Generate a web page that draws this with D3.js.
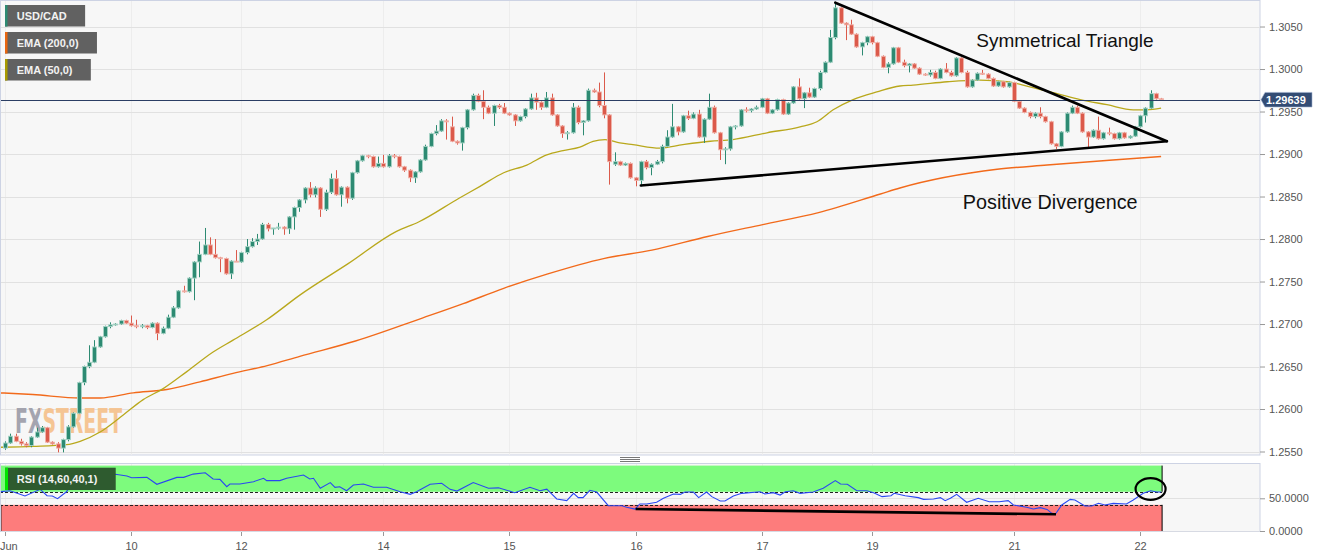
<!DOCTYPE html>
<html><head><meta charset="utf-8">
<script src="https://cdn.jsdelivr.net/npm/d3@7"></script>
<style>
html,body{margin:0;padding:0;background:#fff;overflow:hidden;}
svg{display:block;font-family:"Liberation Sans",Arial,sans-serif;}
</style></head><body>
<svg id="c" width="1331" height="558"></svg>
<script>
// ---------- DATA (hourly USD/CAD candles, index 0..220) ----------
const open = [
1.2554,1.2560,1.2568,1.2562,1.2559,1.2557,1.2567,1.2573,1.2578,1.2561,
1.2559,1.2554,1.2564,1.2579,1.2595,1.2631,1.2650,1.2655,1.2673,1.2685,
1.2697,1.2699,1.2700,1.2704,1.2701,1.2698,1.2697,1.2698,1.2696,1.2701,
1.2689,1.2695,1.2708,1.2719,1.2739,1.2738,1.2754,1.2773,1.2782,1.2793,
1.2782,1.2778,1.2777,1.2759,1.2774,1.2773,1.2784,1.2791,1.2797,1.2800,
1.2817,1.2812,1.2813,1.2814,1.2812,1.2826,1.2837,1.2846,1.2860,1.2852,
1.2860,1.2835,1.2855,1.2871,1.2852,1.2861,1.2848,1.2878,1.2892,1.2898,
1.2897,1.2885,1.2889,1.2885,1.2898,1.2897,1.2885,1.2881,1.2872,1.2879,
1.2893,1.2909,1.2924,1.2927,1.2939,1.2932,1.2915,1.2913,1.2931,1.2952,
1.2969,1.2962,1.2955,1.2948,1.2957,1.2955,1.2948,1.2946,1.2939,1.2944,
1.2953,1.2966,1.2961,1.2955,1.2966,1.2946,1.2933,1.2924,1.2925,1.2955,
1.2937,1.2939,1.2975,1.2973,1.2957,1.2946,1.2888,1.2891,1.2887,1.2889,
1.2872,1.2869,1.2891,1.2884,1.2888,1.2891,1.2909,1.2920,1.2932,1.2926,
1.2945,1.2942,1.2947,1.2920,1.2941,1.2955,1.2925,1.2905,1.2906,1.2932,
1.2933,1.2952,1.2951,1.2953,1.2955,1.2965,1.2948,1.2952,1.2964,1.2947,
1.2960,1.2979,1.2965,1.2972,1.2967,1.2977,1.2996,1.3008,1.3037,1.3072,
1.3054,1.3052,1.3041,1.3026,1.3031,1.3038,1.3031,1.3015,1.3002,1.3006,
1.3025,1.3008,1.3004,1.3006,1.3001,1.2994,1.2993,1.2996,1.2989,1.3000,
1.2996,1.2992,1.3013,1.2996,1.2979,1.2987,1.2995,1.2994,1.2989,1.2980,
1.2985,1.2979,1.2984,1.2962,1.2954,1.2949,1.2944,1.2948,1.2944,1.2938,
1.2912,1.2909,1.2926,1.2948,1.2955,1.2948,1.2926,1.2920,1.2928,1.2918,
1.2925,1.2924,1.2918,1.2925,1.2919,1.2921,1.2932,1.2945,1.2954,1.2971,
1.2965];
const high = [
1.2562,1.2571,1.2571,1.2565,1.2561,1.2568,1.2578,1.2580,1.2579,1.2562,
1.2561,1.2565,1.2581,1.2596,1.2632,1.2651,1.2675,1.2681,1.2686,1.2698,
1.2702,1.2701,1.2705,1.2705,1.2710,1.2705,1.2700,1.2699,1.2702,1.2702,
1.2697,1.2711,1.2721,1.2740,1.2745,1.2755,1.2774,1.2797,1.2813,1.2802,
1.2800,1.2779,1.2778,1.2775,1.2787,1.2785,1.2800,1.2801,1.2806,1.2819,
1.2819,1.2813,1.2819,1.2815,1.2827,1.2838,1.2847,1.2861,1.2867,1.2862,
1.2861,1.2858,1.2877,1.2881,1.2862,1.2862,1.2879,1.2893,1.2899,1.2899,
1.2898,1.2897,1.2899,1.2900,1.2900,1.2898,1.2886,1.2882,1.2880,1.2894,
1.2911,1.2925,1.2934,1.2941,1.2941,1.2944,1.2916,1.2932,1.2953,1.2971,
1.2971,1.2975,1.2957,1.2958,1.2959,1.2960,1.2949,1.2947,1.2945,1.2954,
1.2971,1.2972,1.2962,1.2973,1.2971,1.2947,1.2934,1.2927,1.2960,1.2957,
1.2940,1.2977,1.2977,1.2984,1.2996,1.2947,1.2902,1.2892,1.2890,1.2890,
1.2873,1.2892,1.2893,1.2889,1.2893,1.2911,1.2928,1.2959,1.2933,1.2946,
1.2951,1.2949,1.2952,1.2942,1.2971,1.2957,1.2926,1.2908,1.2933,1.2934,
1.2953,1.2955,1.2954,1.2957,1.2966,1.2966,1.2953,1.2965,1.2965,1.2961,
1.2980,1.2989,1.2973,1.2978,1.2978,1.2998,1.3009,1.3046,1.3079,1.3073,
1.3055,1.3058,1.3042,1.3032,1.3039,1.3039,1.3032,1.3016,1.3008,1.3026,
1.3026,1.3011,1.3007,1.3007,1.3002,1.2995,1.2999,1.2998,1.3001,1.3007,
1.2998,1.3014,1.3014,1.2998,1.2988,1.2996,1.2999,1.2995,1.2990,1.2986,
1.2986,1.2985,1.2985,1.2963,1.2955,1.2950,1.2949,1.2955,1.2945,1.2939,
1.2913,1.2927,1.2949,1.2957,1.2957,1.2949,1.2927,1.2929,1.2944,1.2926,
1.2931,1.2925,1.2926,1.2926,1.2922,1.2933,1.2946,1.2955,1.2975,1.2972,
1.2966];
const low = [
1.2552,1.2559,1.2561,1.2557,1.2555,1.2555,1.2566,1.2572,1.2560,1.2558,
1.2549,1.2549,1.2562,1.2578,1.2594,1.2628,1.2648,1.2654,1.2672,1.2684,
1.2695,1.2698,1.2699,1.2700,1.2697,1.2695,1.2695,1.2694,1.2695,1.2681,
1.2688,1.2694,1.2707,1.2718,1.2737,1.2737,1.2728,1.2755,1.2781,1.2781,
1.2777,1.2761,1.2758,1.2753,1.2773,1.2772,1.2782,1.2790,1.2793,1.2799,
1.2809,1.2805,1.2811,1.2805,1.2806,1.2811,1.2832,1.2842,1.2849,1.2849,
1.2826,1.2833,1.2853,1.2851,1.2838,1.2842,1.2846,1.2877,1.2891,1.2895,
1.2884,1.2884,1.2884,1.2884,1.2895,1.2884,1.2879,1.2867,1.2866,1.2878,
1.2892,1.2908,1.2922,1.2926,1.2917,1.2914,1.2911,1.2904,1.2929,1.2951,
1.2961,1.2941,1.2947,1.2933,1.2953,1.2947,1.2945,1.2933,1.2938,1.2942,
1.2952,1.2952,1.2952,1.2954,1.2945,1.2932,1.2919,1.2917,1.2924,1.2935,
1.2922,1.2938,1.2972,1.2955,1.2942,1.2864,1.2886,1.2886,1.2886,1.2871,
1.2862,1.2862,1.2882,1.2875,1.2887,1.2889,1.2908,1.2919,1.2922,1.2925,
1.2940,1.2941,1.2919,1.2913,1.2940,1.2924,1.2893,1.2888,1.2904,1.2929,
1.2932,1.2949,1.2949,1.2952,1.2954,1.2947,1.2947,1.2951,1.2946,1.2946,
1.2959,1.2964,1.2954,1.2966,1.2966,1.2975,1.2995,1.3007,1.3035,1.3053,
1.3034,1.3040,1.3025,1.3016,1.3028,1.3029,1.3014,1.3001,1.2995,1.3005,
1.3007,1.3002,1.2996,1.3000,1.2993,1.2992,1.2991,1.2988,1.2988,1.2995,
1.2991,1.2991,1.2995,1.2978,1.2978,1.2986,1.2993,1.2988,1.2979,1.2979,
1.2978,1.2978,1.2961,1.2953,1.2948,1.2942,1.2942,1.2942,1.2937,1.2911,
1.2906,1.2908,1.2925,1.2947,1.2947,1.2925,1.2908,1.2919,1.2917,1.2917,
1.2922,1.2917,1.2917,1.2918,1.2918,1.2920,1.2931,1.2937,1.2953,1.2964,
1.2963];
const close = [
1.2560,1.2568,1.2562,1.2559,1.2557,1.2567,1.2573,1.2578,1.2561,1.2559,
1.2554,1.2564,1.2579,1.2595,1.2631,1.2650,1.2655,1.2673,1.2685,1.2697,
1.2699,1.2700,1.2704,1.2701,1.2698,1.2697,1.2698,1.2696,1.2701,1.2689,
1.2695,1.2708,1.2719,1.2739,1.2738,1.2754,1.2773,1.2782,1.2793,1.2782,
1.2778,1.2777,1.2759,1.2774,1.2773,1.2784,1.2791,1.2797,1.2800,1.2817,
1.2812,1.2813,1.2814,1.2812,1.2826,1.2837,1.2846,1.2860,1.2852,1.2860,
1.2835,1.2855,1.2871,1.2852,1.2861,1.2848,1.2878,1.2892,1.2898,1.2897,
1.2885,1.2889,1.2885,1.2898,1.2897,1.2885,1.2881,1.2872,1.2879,1.2893,
1.2909,1.2924,1.2927,1.2939,1.2938,1.2915,1.2913,1.2931,1.2952,1.2969,
1.2962,1.2955,1.2948,1.2957,1.2955,1.2948,1.2946,1.2939,1.2944,1.2953,
1.2966,1.2961,1.2955,1.2966,1.2946,1.2933,1.2924,1.2925,1.2955,1.2937,
1.2939,1.2975,1.2973,1.2957,1.2946,1.2891,1.2891,1.2887,1.2889,1.2872,
1.2869,1.2891,1.2884,1.2888,1.2891,1.2909,1.2920,1.2932,1.2926,1.2945,
1.2942,1.2947,1.2920,1.2941,1.2955,1.2925,1.2905,1.2906,1.2932,1.2933,
1.2952,1.2951,1.2953,1.2955,1.2965,1.2948,1.2952,1.2964,1.2947,1.2960,
1.2979,1.2965,1.2972,1.2967,1.2977,1.2996,1.3008,1.3037,1.3072,1.3054,
1.3052,1.3041,1.3026,1.3031,1.3038,1.3031,1.3015,1.3002,1.3006,1.3025,
1.3008,1.3004,1.3006,1.3001,1.2994,1.2993,1.2996,1.2989,1.3000,1.2996,
1.2992,1.3013,1.2996,1.2979,1.2987,1.2995,1.2994,1.2989,1.2980,1.2985,
1.2979,1.2984,1.2962,1.2954,1.2949,1.2944,1.2948,1.2944,1.2938,1.2912,
1.2909,1.2926,1.2948,1.2955,1.2948,1.2926,1.2920,1.2928,1.2918,1.2925,
1.2924,1.2918,1.2925,1.2919,1.2921,1.2932,1.2945,1.2954,1.2971,1.2965,
1.29639];

const ema200Idx = [-1,5.3,14.3,18.1,24.4,30.8,37.1,43.4,49.9,56.1,66.7,79.4,87.2,94.9,103.3,113.9,123.1,133.7,144.2,154.8,166.6,170.3,188.8,198.3,210.8,220];
const ema200Val = [1.2619,1.2617,1.2613,1.2613,1.2619,1.2623,1.2632,1.2642,1.2651,1.2662,1.2680,1.2707,1.2724,1.2742,1.2759,1.2777,1.2787,1.2803,1.2817,1.2831,1.2853,1.2860,1.2882,1.2887,1.2893,1.2897];

const ema50Idx = [-1,5.4,11.7,14.3,18.1,22.5,26.3,30.1,34.6,39.6,43.4,49.8,56.1,65.3,74.5,78.7,86.4,90.4,94.9,99.3,103.1,106.2,109.4,111.9,114.2,117,119.5,124.6,129,134.2,138.5,145,151.3,154.5,157.6,161.4,165.9,170.3,172.8,179.3,185.5,190.7,195,200.2,204.6,209.7,214.7,217.3,220];
const ema50Val = [1.2555,1.2556,1.2558,1.2562,1.2573,1.2593,1.2611,1.2624,1.2644,1.2667,1.2681,1.2705,1.2734,1.2771,1.2809,1.2820,1.2848,1.2862,1.2878,1.2887,1.2899,1.2904,1.2908,1.2915,1.2917,1.2913,1.2911,1.2907,1.2911,1.2915,1.2917,1.2925,1.2932,1.2938,1.2952,1.2964,1.2973,1.2980,1.2981,1.2985,1.2987,1.2985,1.2979,1.2971,1.2964,1.2958,1.2952,1.2952,1.2954];

const rsiIdx = [-1,0.95,3.8,6.7,8,9,10,11.7,12.7,14.3,18.1,21,23.2,24.1,27,28.9,32.7,34,35.8,38.1,39.6,40.9,42.2,42.8,44.7,47.3,49.2,49.8,52.3,53.6,56.8,58,58.7,60,61.9,62.8,63.7,65,66.3,68.2,70.1,72.6,75.2,77.1,78.3,80.9,83.1,84.7,86,89.1,92,93.9,97,99.9,101.8,103.1,105,106.9,108.2,109.1,110,111.3,112.6,114.8,117.4,118.3,119.9,120.8,122.1,124,125.3,127.2,128.5,129.4,131,132,133.5,134.5,136.1,137,138.6,140.2,143.7,144.6,146.2,147.5,148.5,150,151.3,153.8,155.7,158,159,160.3,162.1,164,165.3,166.9,168.6,169.2,171.3,173.8,174.8,176.7,178,178.9,179.9,181.1,183,185.2,187.3,189.2,190.9,191.9,194.4,195.7,197,198.3,199.2,199.9,201.1,202.7,203.6,205.5,206.8,208.1,209.3,210.9,213.4,214.7,216.6,218,219.2,220];
const rsiVal = [60,61.6,53.5,63.7,54,53.5,49.4,60,73,83,85.6,86.7,84,81.5,82,71.4,82,82,87,89,79.5,79,67.7,71.8,71.8,75.4,80.6,77,77,80.6,85.6,79.5,80.6,65.3,74,66.8,67.7,61.6,70.3,71.8,66.8,66.8,60,56,60,71.4,73,63.7,61,74,65.3,66,58.6,66.8,61.6,64,49,46.4,57.6,51,51,62.2,59.6,38.7,38.7,36.2,33.6,41.3,41.3,43.9,50,56.6,56,59.6,59.6,51,59.6,52.5,45.9,45.9,53.5,57.6,60,56.6,58.6,55,60,61.6,57.6,59.6,65.3,77,71.8,71.4,61.6,61.6,58.6,52.5,54,57.6,54,51,48.4,49,51,46.4,50,56,43.9,50,44.8,44.8,46.4,39.8,36.2,33.6,35.7,33,27,26,39.8,48.4,47.4,38.2,38.2,42.3,39.8,42.3,41.3,47.4,57.6,61.6,59.6,59.6];

const priceTicks = [1.2550,1.2600,1.2650,1.2700,1.2750,1.2800,1.2850,1.2900,1.2950,1.3000,1.3050];
const rsiTicks = [0,50];
const rsiUpper = 60, rsiLower = 40;
const dayIdx = [0,24,45,72,96,120,144,165,192,216];
const dayLabels = ["Jun","10","12","14","15","16","17","19","21","22"];
const lastPrice = 1.29639;

// annotations (data units: candle index, price / rsi)
const triUpper = [[158,1.3078],[221.1,1.2915]];
const triLower = [[121,1.2863],[221.1,1.2915]];
const rsiDiv = [[120,33.6],[200,25.5]];
const rsiMark = [218,64.2];
const notes = [
  {t:"Symmetrical Triangle", i:201.7, p:1.30259, s:19},
  {t:"Positive Divergence",  i:198.9, p:1.28353, s:19.8}
];
const legends = [
  {t:"USD/CAD", c:"#2d8a72"},
  {t:"EMA (200,0)", c:"#e8650f"},
  {t:"EMA (50,0)", c:"#a89a00"}
];

// ---------- SCALES ----------
const svg = d3.select("#c");
const PR = 1260; // plot right
const x = d3.scaleLinear().domain([0,220]).range([5,1161.1]);
const y = d3.scaleLinear().domain([1.25459,1.30812]).range([455,0]);
const yr = d3.scaleLinear().domain([0,100]).range([531,465.6]);

const UP="#2d8a72", DN="#db5a4b", UPL="#a7d3c6", DNL="#f1b3aa";

const defs = svg.append("defs");
defs.append("clipPath").attr("id","cm").append("rect").attr("x",1).attr("y",1).attr("width",PR-1).attr("height",454);
defs.append("clipPath").attr("id","cr").append("rect").attr("x",1).attr("y",464).attr("width",PR-1).attr("height",67.5);
// two-colour watermark fill
const wg = defs.append("linearGradient").attr("id","wmg").attr("gradientUnits","userSpaceOnUse")
  .attr("x1",15).attr("x2",122).attr("y1",0).attr("y2",0);
wg.append("stop").attr("offset",0).attr("stop-color","#9c9ca8");
wg.append("stop").attr("offset",0.237).attr("stop-color","#9c9ca8");
wg.append("stop").attr("offset",0.237).attr("stop-color","#f5c08a");
wg.append("stop").attr("offset",1).attr("stop-color","#f5c08a");

// panels
svg.append("rect").attr("x",0.5).attr("y",0.5).attr("width",PR-0.5).attr("height",454.5)
  .attr("fill","#f7f7f7").attr("stroke","#cdd3e4");
svg.append("rect").attr("x",0.5).attr("y",463.5).attr("width",PR-0.5).attr("height",68)
  .attr("fill","#f7f7f7").attr("stroke","#cdd3e4");

// grids
const gm = svg.append("g").attr("clip-path","url(#cm)");
gm.selectAll("line.vg").data(dayIdx).join("line")
  .attr("x1",d=>Math.round(x(d))+0.5).attr("x2",d=>Math.round(x(d))+0.5)
  .attr("y1",1).attr("y2",455).attr("stroke","#ededed");
gm.selectAll("line.hg").data(priceTicks).join("line")
  .attr("x1",1).attr("x2",PR).attr("y1",d=>Math.round(y(d))+0.5).attr("y2",d=>Math.round(y(d))+0.5)
  .attr("stroke","#e1e1e1");

// FXSTREET watermark (single text element)
gm.append("text").attr("x",15).attr("y",433).attr("textLength",107).attr("lengthAdjust","spacingAndGlyphs")
  .style("font-family","'Liberation Sans Narrow','DejaVu Sans Condensed',sans-serif").style("font-weight","bold")
  .style("font-size","34px").attr("fill","url(#wmg)").attr("opacity",0.9).text("FXSTREET");

// EMA lines
const lineP = d3.line().x(d=>x(d[0])).y(d=>y(d[1])).curve(d3.curveMonotoneX);
gm.append("path").attr("d",lineP(ema200Idx.map((d,i)=>[d,ema200Val[i]])))
  .attr("fill","none").attr("stroke","#f26a1b").attr("stroke-width",1.4);
gm.append("path").attr("d",lineP(ema50Idx.map((d,i)=>[d,ema50Val[i]])))
  .attr("fill","none").attr("stroke","#b9a81c").attr("stroke-width",1.3);

// candles
const idx = d3.range(close.length);
const cx = i => Math.round(x(i))+0.5;
gm.selectAll("line.w").data(idx).join("line")
  .attr("x1",cx).attr("x2",cx)
  .attr("y1",i=>y(high[i])).attr("y2",i=>y(low[i]))
  .attr("stroke",i=>close[i]>=open[i]?UP:DN).attr("stroke-width",1);
gm.selectAll("rect.b").data(idx).join("rect")
  .attr("x",i=>cx(i)-2).attr("width",4)
  .attr("y",i=>y(Math.max(open[i],close[i])))
  .attr("height",i=>Math.max(1,Math.abs(y(open[i])-y(close[i]))))
  .attr("fill",i=>close[i]>=open[i]?UP:DN)
  .attr("stroke",i=>close[i]>=open[i]?UPL:DNL).attr("stroke-width",0.9);

// last price line
gm.append("line").attr("x1",1).attr("x2",PR).attr("y1",Math.round(y(lastPrice))+0.5).attr("y2",Math.round(y(lastPrice))+0.5)
  .attr("stroke","#2b3e64").attr("stroke-width",1);

// trendlines
const lineT = d3.line().x(d=>x(d[0])).y(d=>y(d[1]));
[triUpper, triLower].forEach(t=>gm.append("path").attr("d",lineT(t)).attr("fill","none")
  .attr("stroke","#000").attr("stroke-width",2.6).attr("stroke-linecap","round"));

// annotations
gm.selectAll("text.note").data(notes).join("text")
  .attr("x",d=>x(d.i)).attr("y",d=>y(d.p)).attr("text-anchor","middle")
  .style("font-size",d=>d.s+"px").attr("fill","#111").text(d=>d.t);

// legends
legends.forEach((L,k)=>{
  const g = svg.append("g").attr("transform",`translate(5,${5+k*27})`);
  const r = g.append("rect").attr("height",21.5).attr("fill","#616161");
  g.append("rect").attr("width",2.5).attr("height",21.5).attr("fill",L.c);
  const t = g.append("text").attr("x",11.7).attr("y",15).attr("fill","#f2f2f2")
    .style("font-size","11px").style("font-weight","bold").text(L.t);
  r.attr("width",t.node().getComputedTextLength()+30);
});

// price axis
const ya = d3.axisRight(y).tickValues(priceTicks).tickFormat(d3.format(".4f")).tickSize(5).tickPadding(4);
const ga = svg.append("g").attr("transform",`translate(${PR},0)`).call(ya);
ga.select(".domain").remove();
ga.selectAll("line").attr("stroke","#999");
ga.selectAll("text").attr("fill","#555").style("font-size","11px").style("font-family","'Liberation Sans',Arial,sans-serif");

// last price label
const ly = y(lastPrice);
svg.append("path").attr("d",`M${PR+1},${ly} L${PR+5},${ly-7.3} L${PR+52},${ly-7.3} L${PR+52},${ly+7.3} L${PR+5},${ly+7.3} Z`)
  .attr("fill","#334c74").attr("stroke","#9fb0cc").attr("stroke-width",0.6);
svg.append("text").attr("x",PR+6).attr("y",ly+4).attr("fill","#fff").style("font-size","11px").style("font-weight","bold")
  .text(lastPrice.toFixed(5));

// ---------- RSI PANEL ----------
const gr = svg.append("g").attr("clip-path","url(#cr)");
gr.selectAll("line.vg").data(dayIdx).join("line")
  .attr("x1",d=>Math.round(x(d))+0.5).attr("x2",d=>Math.round(x(d))+0.5)
  .attr("y1",464).attr("y2",532).attr("stroke","#ededed");
gr.selectAll("line.hg").data(rsiTicks).join("line")
  .attr("x1",1).attr("x2",PR).attr("y1",d=>Math.round(yr(d))+0.5).attr("y2",d=>Math.round(yr(d))+0.5).attr("stroke","#e1e1e1");
const bandR = x(220)+1;
gr.append("rect").attr("x",0).attr("y",yr(100)).attr("width",bandR).attr("height",yr(rsiUpper)-yr(100)).attr("fill","#7dfb7d");
gr.append("rect").attr("x",0).attr("y",yr(rsiLower)).attr("width",bandR).attr("height",yr(0)-yr(rsiLower)).attr("fill","#fd7c7c");
[rsiUpper,rsiLower].forEach(v=>gr.append("line").attr("x1",0).attr("x2",bandR)
  .attr("y1",Math.round(yr(v))+0.5).attr("y2",Math.round(yr(v))+0.5).attr("stroke","#222").attr("stroke-dasharray","3,2"));
gr.append("line").attr("x1",bandR).attr("x2",bandR).attr("y1",yr(100)).attr("y2",yr(rsiUpper)).attr("stroke","#000");
gr.append("line").attr("x1",bandR).attr("x2",bandR).attr("y1",yr(rsiLower)).attr("y2",yr(0)).attr("stroke","#000");
gr.append("line").attr("x1",1).attr("x2",1).attr("y1",yr(rsiLower)).attr("y2",yr(0)).attr("stroke","#333");

const lineR = d3.line().x(d=>x(d[0])).y(d=>yr(d[1]));
gr.append("path").attr("d",lineR(rsiIdx.map((d,i)=>[d,rsiVal[i]]))).attr("fill","none")
  .attr("stroke","#2947f2").attr("stroke-width",1.1);
gr.append("path").attr("d",lineR(rsiDiv)).attr("fill","none").attr("stroke","#000").attr("stroke-width",2.6);
svg.append("ellipse").attr("cx",x(rsiMark[0])).attr("cy",yr(rsiMark[1])).attr("rx",15).attr("ry",10.8)
  .attr("fill","none").attr("stroke","#000").attr("stroke-width",2.2);

// RSI legend
{
  const g = svg.append("g").attr("transform","translate(5,467.7)");
  const r = g.append("rect").attr("height",22.3).attr("fill","#2e5b2f");
  g.append("rect").attr("width",3).attr("height",22.3).attr("fill","#00e400");
  const t = g.append("text").attr("x",11.7).attr("y",15.5).attr("fill","#f2f2f2")
    .style("font-size","11px").style("font-weight","bold").text("RSI (14,60,40,1)");
  r.attr("width",t.node().getComputedTextLength()+30);
}

// RSI axis
const yra = d3.axisRight(yr).tickValues(rsiTicks).tickFormat(d3.format(".4f")).tickSize(5).tickPadding(4);
const gra = svg.append("g").attr("transform",`translate(${PR},0)`).call(yra);
gra.select(".domain").remove();
gra.selectAll("line").attr("stroke","#999");
gra.selectAll("text").attr("fill","#555").style("font-size","11px").style("font-family","'Liberation Sans',Arial,sans-serif");

// x-axis labels
const gx = svg.append("g");
dayIdx.forEach((d,k)=>{
  const px = Math.round(x(d))+0.5;
  gx.append("line").attr("x1",px).attr("x2",px).attr("y1",532).attr("y2",536).attr("stroke","#999");
  const t = gx.append("text").attr("x",px).attr("y",549.5).attr("text-anchor","middle")
    .attr("fill","#555").style("font-size","11px").text(dayLabels[k]);
  const w = t.node().getComputedTextLength();
  if (px - w/2 < 0) t.attr("text-anchor","start").attr("x",0);
});

// panel divider handle
[457,459,461].forEach(v=>svg.append("line").attr("x1",620).attr("x2",640).attr("y1",v+0.5).attr("y2",v+0.5).attr("stroke","#777"));
</script>
</body></html>
